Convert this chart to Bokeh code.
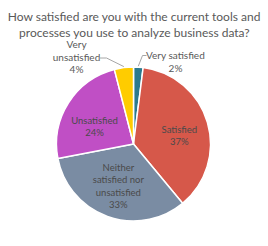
import numpy as np
from bokeh.plotting import figure
from bokeh.models import Range1d, ColumnDataSource
from bokeh.core.properties import value
from bokeh.embed import file_html
from bokeh.resources import INLINE

title_lines = ["How satisfied are you with the current tools and",
               "processes you use to analyze business data?"]
categories = ["Very satisfied", "Satisfied", "Neither satisfied nor unsatisfied",
              "Unsatisfied", "Very unsatisfied"]
label_texts = ["Very satisfied", "Satisfied", "Neither\nsatisfied nor\nunsatisfied",
               "Unsatisfied", "Very\nunsatisfied"]
percents = [2, 37, 33, 24, 4]
colors = ["#2B7A8E", "#D6584A", "#7A8CA3", "#C04FC5", "#FFCC00"]

W, H = 268, 246
cx, cy, R = 133, H - 143.5, 77
LH = 12.3

frac = np.array(percents, dtype=float) / sum(percents)
cum = np.concatenate([[0], np.cumsum(frac)])
start = np.pi / 2 - 2 * np.pi * cum[:-1]
end = np.pi / 2 - 2 * np.pi * cum[1:]
mid = (start + end) / 2

p = figure(width=W, height=H, output_backend="svg", toolbar_location=None,
           x_range=Range1d(0, W), y_range=Range1d(0, H), min_border=0)
p.axis.visible = False
p.grid.visible = False
p.outline_line_color = None
p.background_fill_color = "white"
p.border_fill_color = "white"

src = ColumnDataSource(dict(start=end, end=start, color=colors))
p.wedge(x=cx, y=cy, radius=R, start_angle="start", end_angle="end",
        direction="anticlock", fill_color="color", line_color="white",
        line_width=1.5, source=src)

font = value("Lato")
# title
p.text(x=[W / 2, W / 2], y=[H - 16, H - 32], text=title_lines, text_align="center",
       text_baseline="middle", text_font=font, text_font_size="12px",
       text_color="#595959")


def block(x, y, lines):
    n = len(lines)
    xs = [x] * n
    ys = [y + (n - 1) / 2 * LH - k * LH for k in range(n)]
    return xs, ys, lines


# inside labels
lbl_r = [0, 0.62, 0.58, 0.6, 0]
dy_off = [0, -5, 0, -7, 0]
ix, iy, it = [], [], []
for i in [1, 2, 3]:
    lx = cx + lbl_r[i] * R * np.cos(mid[i])
    ly = cy + lbl_r[i] * R * np.sin(mid[i]) + dy_off[i]
    xs, ys, ts = block(lx, ly, label_texts[i].split("\n") + [f"{percents[i]}%"])
    ix += xs; iy += ys; it += ts
p.text(x=ix, y=iy, text=it, text_align="center", text_baseline="middle",
       text_font=font, text_font_size="9.5px", text_color="#4A4A4A")

# outside labels
ox, oy, ot = [], [], []
for i, (lx, ly) in [(0, (175, H - 61)), (4, (76, H - 56))]:
    xs, ys, ts = block(lx, ly, label_texts[i].split("\n") + [f"{percents[i]}%"])
    ox += xs; oy += ys; ot += ts
p.text(x=ox, y=oy, text=ot, text_align="center", text_baseline="middle",
       text_font=font, text_font_size="10px", text_color="#595959")

# leader lines
ex0 = cx + R * np.cos(mid[0])
ey0 = cy + R * np.sin(mid[0])
p.line(x=[ex0, 142, 146], y=[ey0 + 1, H - 55, H - 55], line_color="#A6A6A6", line_width=1)
ex4 = cx + R * np.cos(mid[4])
ey4 = cy + R * np.sin(mid[4])
p.line(x=[99, 106, ex4], y=[H - 57.5, H - 57.5, ey4 + 1], line_color="#A6A6A6", line_width=1)

open("out.html", "w").write(file_html(p, INLINE))
